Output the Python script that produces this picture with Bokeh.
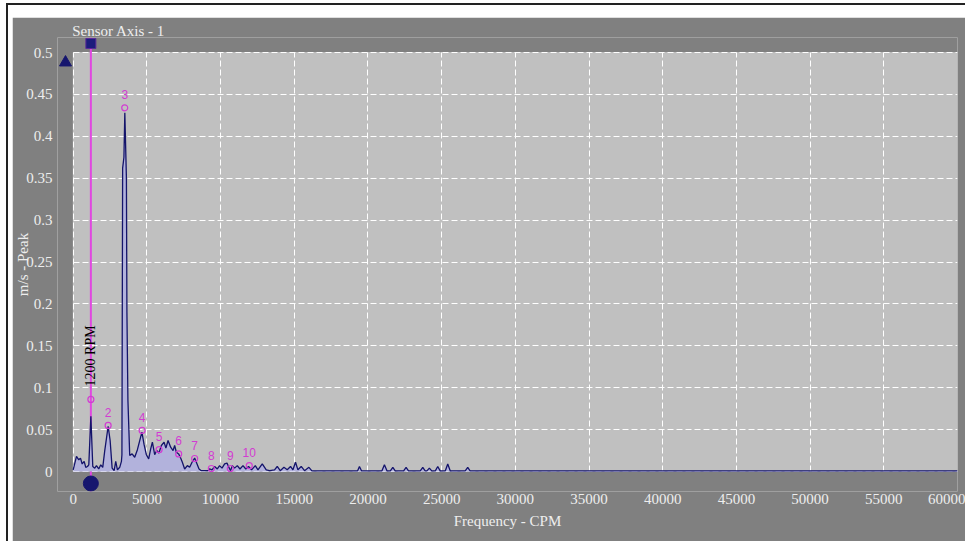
import math
from bokeh.plotting import figure
from bokeh.models import Range1d, FixedTicker, Span, BoxAnnotation, ColumnDataSource
from bokeh.layouts import column
from bokeh.core.properties import value
from bokeh.embed import file_html
from bokeh.resources import INLINE

# ---------------- data ----------------
# Velocity spectrum: frequency (CPM) and amplitude (m/s peak)
FREQ_CPM = [0, 224, 380, 495, 610, 745, 854, 969, 1060, 1200, 1330, 1464, 1579, 1735,
            1870, 2006, 2142, 2372, 2507, 2643, 2779, 2887, 3002, 3158, 3273, 3307,
            3355, 3443, 3504, 3612, 3646, 3714, 3836, 3998, 4175, 4358, 4663, 4812,
            4967, 5123, 5259, 5374, 5530, 5666, 5815, 5984, 6167, 6289, 6438, 6614,
            6777, 6885, 7000, 7156, 7292, 7407, 7563, 7746, 7902, 8065, 8241, 8404,
            8539, 8695, 8919, 9149, 9257, 9420, 9596, 9779, 9935, 10098, 10274, 10437,
            10593, 10681, 10796, 10952, 11135, 11318, 11521, 11711, 11900, 12104,
            12355, 12537, 12829, 13100, 13323, 13662, 13845, 14049, 14300, 14523,
            14747, 14909, 15086, 15248, 15472, 15696, 15994, 16197, 19300, 19423,
            19560, 20950, 21117, 21290, 21520, 21686, 21850, 22420, 22588, 22750,
            23550, 23719, 23880, 24000, 24167, 24330, 24570, 24736, 24900, 25250,
            25414, 25580, 26600, 26769, 26930, 60000]
AMP_MS = [0.002, 0.018, 0.014, 0.016, 0.009, 0.012, 0.005, 0.006, 0.008, 0.066, 0.006,
          0.004, 0.007, 0.003, 0.008, 0.005, 0.025, 0.054, 0.037, 0.004, 0.001, 0.012,
          0.002, 0.005, 0.012, 0.02, 0.362, 0.375, 0.428, 0.35, 0.19, 0.085, 0.019,
          0.021, 0.017, 0.026, 0.047, 0.032, 0.020, 0.015, 0.027, 0.035, 0.020, 0.025,
          0.022, 0.031, 0.035, 0.028, 0.037, 0.029, 0.025, 0.031, 0.023, 0.021, 0.016,
          0.011, 0.003, 0.007, 0.005, 0.011, 0.016, 0.009, 0.003, 0.001, 0.001, 0.001,
          0.003, 0.002, 0.006, 0.003, 0.007, 0.004, 0.009, 0.010, 0.004, 0.001, 0.007,
          0.004, 0.007, 0.003, 0.007, 0.003, 0.006, 0.002, 0.007, 0.002, 0.009, 0.002,
          0.001, 0.002, 0.006, 0.001, 0.005, 0.002, 0.006, 0.002, 0.011, 0.002, 0.006,
          0.001, 0.005, 0.0008, 0.0008, 0.006, 0.0008, 0.0008, 0.008, 0.0008, 0.0008,
          0.005, 0.0008, 0.0008, 0.005, 0.0008, 0.0008, 0.005, 0.0008, 0.0008, 0.004,
          0.0008, 0.0008, 0.006, 0.0008, 0.0008, 0.009, 0.0008, 0.0008, 0.005, 0.0008,
          0.0008]

# Running-speed harmonic markers
HARMONIC_ORDER = [1, 2, 3, 4, 5, 6, 7, 8, 9, 10]
HARMONIC_CPM = [1200, 2372, 3497, 4676, 5829, 7157, 8241, 9373, 10661, 11949]
HARMONIC_AMP = [0.086, 0.055, 0.434, 0.049, 0.026, 0.021, 0.0155, 0.0036, 0.0036, 0.007]

RUNNING_SPEED_CPM = 1200
RUNNING_SPEED_TEXT = "1200 RPM"

X_TICKS = [0, 5000, 10000, 15000, 20000, 25000, 30000, 35000, 40000, 45000, 50000, 55000, 60000]
Y_TICKS = [0, 0.05, 0.1, 0.15, 0.2, 0.25, 0.3, 0.35, 0.4, 0.45, 0.5]
Y_TICK_TEXT = ["0", "0.05", "0.1", "0.15", "0.2", "0.25", "0.3", "0.35", "0.4", "0.45", "0.5"]

TITLE = "Sensor Axis - 1"
X_LABEL = "Frequency - CPM"
Y_LABEL = "m/s - Peak"
X_MAX = 60000
Y_MAX = 0.5

# ---------------- geometry (page pixels) ----------------
PX_X0, PX_XMAX = 71.7, 957.0        # 0 CPM and X_MAX
PX_Y0, PX_YMAX = 471.0, 52.0        # 0 and Y_MAX
FRAME_L, FRAME_R, FRAME_T, FRAME_B = 56, 957, 37, 491
FIG_X, FIG_Y, FIG_W, FIG_H = 12, 17, 953, 524


def cpm_at(px):
    return (px - PX_X0) * X_MAX / (PX_XMAX - PX_X0)


def amp_at(py):
    return (PX_Y0 - py) * Y_MAX / (PX_Y0 - PX_YMAX)


DARK = "#808080"
PANEL = "#c0c0c0"
TEXT = "#eeeeee"
NAVY = "#14146a"
MAGENTA = "#d23cd2"
FONT = "Liberation Serif"

p = figure(width=FIG_W, height=FIG_H,
           x_range=Range1d(cpm_at(FRAME_L), cpm_at(FRAME_R)),
           y_range=Range1d(amp_at(FRAME_B), amp_at(FRAME_T)),
           output_backend="svg", toolbar_location=None,
           min_border_left=FRAME_L - FIG_X, min_border_right=FIG_X + FIG_W - FRAME_R,
           min_border_top=FRAME_T - FIG_Y, min_border_bottom=FIG_Y + FIG_H - FRAME_B,
           background_fill_color=DARK, border_fill_color=DARK, outline_line_color=None)

# title
p.title.text = TITLE
p.title.align = "left"
p.title.offset = PX_X0 - FRAME_L - 1
p.title.standoff = -2
p.title.text_color = TEXT
p.title.text_font = FONT
p.title.text_font_size = "15px"
p.title.text_font_style = "normal"

# plot panel
p.add_layout(BoxAnnotation(left=0, right=X_MAX, bottom=0, top=Y_MAX, fill_color=PANEL,
                           fill_alpha=1, line_color="white", line_width=1, level="image"))

# grids
for g in (p.xgrid, p.ygrid):
    g.grid_line_color = "white"
    g.grid_line_dash = "6 3"
    g.grid_line_width = 1
p.xgrid.ticker = FixedTicker(ticks=X_TICKS)
p.ygrid.ticker = FixedTicker(ticks=Y_TICKS)
p.xgrid.cross_bounds = (0, Y_MAX)
p.ygrid.cross_bounds = (0, X_MAX)

# axes
for ax in (p.xaxis, p.yaxis):
    ax.axis_line_color = None
    ax.major_tick_line_color = None
    ax.minor_tick_line_color = None
    ax.major_tick_in = 0
    ax.major_tick_out = 0
    ax.minor_tick_in = 0
    ax.minor_tick_out = 0
    ax.major_label_text_color = TEXT
    ax.major_label_text_font = FONT
    ax.major_label_text_font_size = "15px"
    ax.axis_label_text_color = TEXT
    ax.axis_label_text_font = FONT
    ax.axis_label_text_font_size = "15px"
    ax.axis_label_text_font_style = "normal"

p.xaxis.ticker = FixedTicker(ticks=X_TICKS)
p.xaxis.major_label_overrides = {t: str(t) for t in X_TICKS}
p.xaxis.major_label_standoff = 2
p.xaxis.axis_label = X_LABEL
p.xaxis.axis_label_standoff = 6

p.yaxis.ticker = FixedTicker(ticks=Y_TICKS)
p.yaxis.major_label_overrides = dict(zip(Y_TICKS, Y_TICK_TEXT))
p.yaxis.major_label_standoff = 5
p.yaxis.axis_label = Y_LABEL
p.yaxis.axis_label_standoff = -8
p.yaxis.axis_label_text_line_height = 1.0

# running-speed cursor
p.add_layout(Span(location=RUNNING_SPEED_CPM, dimension="height",
                  line_color="#e048e0", line_width=2, level="underlay"))

# spectrum
spec = ColumnDataSource(dict(f=FREQ_CPM, a=AMP_MS))
p.varea(x="f", y1=0, y2="a", source=spec, fill_color="#b2b2dc", fill_alpha=1)
p.line(x="f", y="a", source=spec, line_color=NAVY, line_width=1.3)

p.scatter([RUNNING_SPEED_CPM], [amp_at(43)], marker="square", size=10,
          fill_color="#1c1c7c", line_color="#5a2a98", line_width=1)
p.scatter([RUNNING_SPEED_CPM], [amp_at(483)], marker="circle", size=15,
          fill_color="#16166e", line_color="#16166e")
p.scatter([cpm_at(64)], [amp_at(62)], marker="triangle", size=12,
          fill_color="#16166e", line_color="#16166e")

p.text(x=[RUNNING_SPEED_CPM], y=[HARMONIC_AMP[0]], text=[RUNNING_SPEED_TEXT],
       angle=math.pi / 2, y_offset=-13, text_align="left", text_baseline="middle",
       text_color="black", text_font=value(FONT), text_font_size="14px")

# harmonic markers and their order numbers
harm = ColumnDataSource(dict(f=HARMONIC_CPM, a=HARMONIC_AMP,
                             n=[str(o) for o in HARMONIC_ORDER]))
p.scatter(x="f", y="a", source=harm, marker="circle", size=6,
          fill_color=None, line_color=MAGENTA, line_width=1.2)
lab = ColumnDataSource(dict(f=HARMONIC_CPM[1:], a=HARMONIC_AMP[1:],
                            n=[str(o) for o in HARMONIC_ORDER[1:]]))
p.text(x="f", y="a", text="n", source=lab, y_offset=-13, text_align="center",
       text_baseline="middle", text_color=MAGENTA,
       text_font=value("Liberation Sans"), text_font_size="12px")

p.margin = (12, 0, 0, 4)
page = column(p, margin=(3, 0, 0, 6),
              styles={"border-top": "2px solid #222222", "border-left": "2px solid #222222",
                      "background-color": "white"})

open("out.html", "w").write(file_html(page, INLINE))
